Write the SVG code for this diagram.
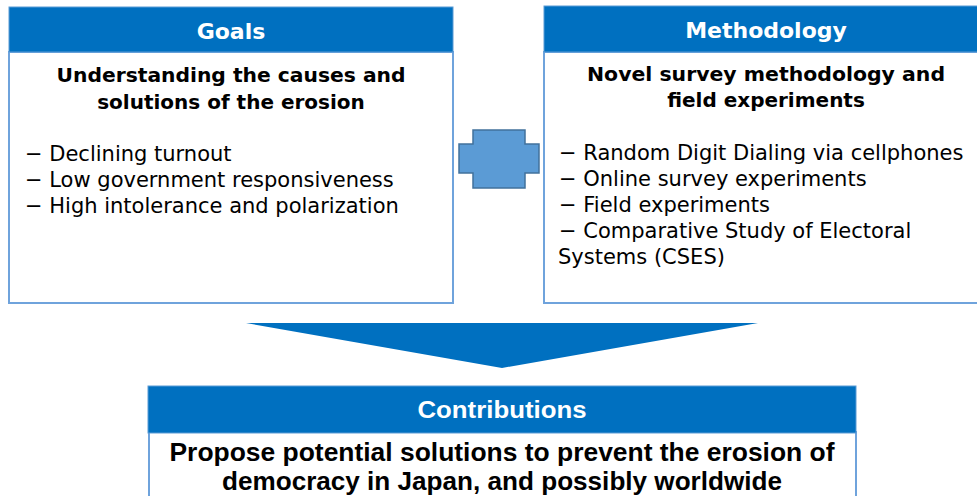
<svg xmlns="http://www.w3.org/2000/svg" width="977" height="496" viewBox="0 0 977 496">
<style>
.hdr{fill:#0070C0;stroke:#5B9BD5;stroke-width:1}
.body{fill:#ffffff;stroke:#6FA3DC;stroke-width:2}
.ht{font-family:"DejaVu Sans",Verdana,sans-serif;font-weight:bold;font-size:22px;fill:#ffffff;text-anchor:middle}
.sub{font-family:"DejaVu Sans",Verdana,sans-serif;font-weight:bold;font-size:20px;fill:#000000;text-anchor:middle}
.li{font-family:"DejaVu Sans",Verdana,sans-serif;font-size:21px;fill:#000000}
.ct{font-family:"Liberation Sans",Arial,sans-serif;font-weight:bold;font-size:24px;fill:#ffffff;text-anchor:middle}
.cb{font-family:"Liberation Sans",Arial,sans-serif;font-weight:bold;font-size:25px;fill:#000000;text-anchor:middle}
</style>
<g id="goals">
<rect class="body" x="9" y="52" width="444" height="251"/>
<rect class="hdr" x="9" y="7" width="444" height="45"/>
<text class="ht" x="231" y="39">Goals</text>
<text class="sub" x="231" y="82" textLength="349" lengthAdjust="spacingAndGlyphs">Understanding the causes and</text>
<text class="sub" x="231" y="109">solutions of the erosion</text>
<text class="li" x="25" y="161">− Declining turnout</text>
<text class="li" x="25" y="187">− Low government responsiveness</text>
<text class="li" x="25" y="213">− High intolerance and polarization</text>
</g>
<g id="methodology">
<rect class="body" x="544" y="52" width="460" height="251"/>
<rect class="hdr" x="544" y="6" width="460" height="46"/>
<text class="ht" x="766" y="38">Methodology</text>
<text class="sub" x="766" y="81" textLength="358" lengthAdjust="spacingAndGlyphs">Novel survey methodology and</text>
<text class="sub" x="766" y="107">field experiments</text>
<text class="li" x="559" y="160">− Random Digit Dialing via cellphones</text>
<text class="li" x="559" y="186">− Online survey experiments</text>
<text class="li" x="559" y="212">− Field experiments</text>
<text class="li" x="559" y="238">− Comparative Study of Electoral</text>
<text class="li" x="558" y="264">Systems (CSES)</text>
</g>
<g id="contributions">
<rect class="body" x="149" y="432" width="707" height="70"/>
<rect class="hdr" x="148" y="386" width="708" height="47"/>
<text class="ct" x="502" y="418" textLength="169" lengthAdjust="spacingAndGlyphs">Contributions</text>
<text class="cb" x="502" y="461" textLength="665" lengthAdjust="spacingAndGlyphs">Propose potential solutions to prevent the erosion of</text>
<text class="cb" x="502" y="490" textLength="560" lengthAdjust="spacingAndGlyphs">democracy in Japan, and possibly worldwide</text>
</g>
<g id="connectors">
<polygon points="473,130 525,130 525,144 539,144 539,173 525,173 525,188 473,188 473,173 459,173 459,144 473,144" fill="#5B9BD5" stroke="#41719C" stroke-width="1.5"/>
<polygon points="246,323 758,323 502,368" fill="#0070C0"/>
</g>
</svg>
